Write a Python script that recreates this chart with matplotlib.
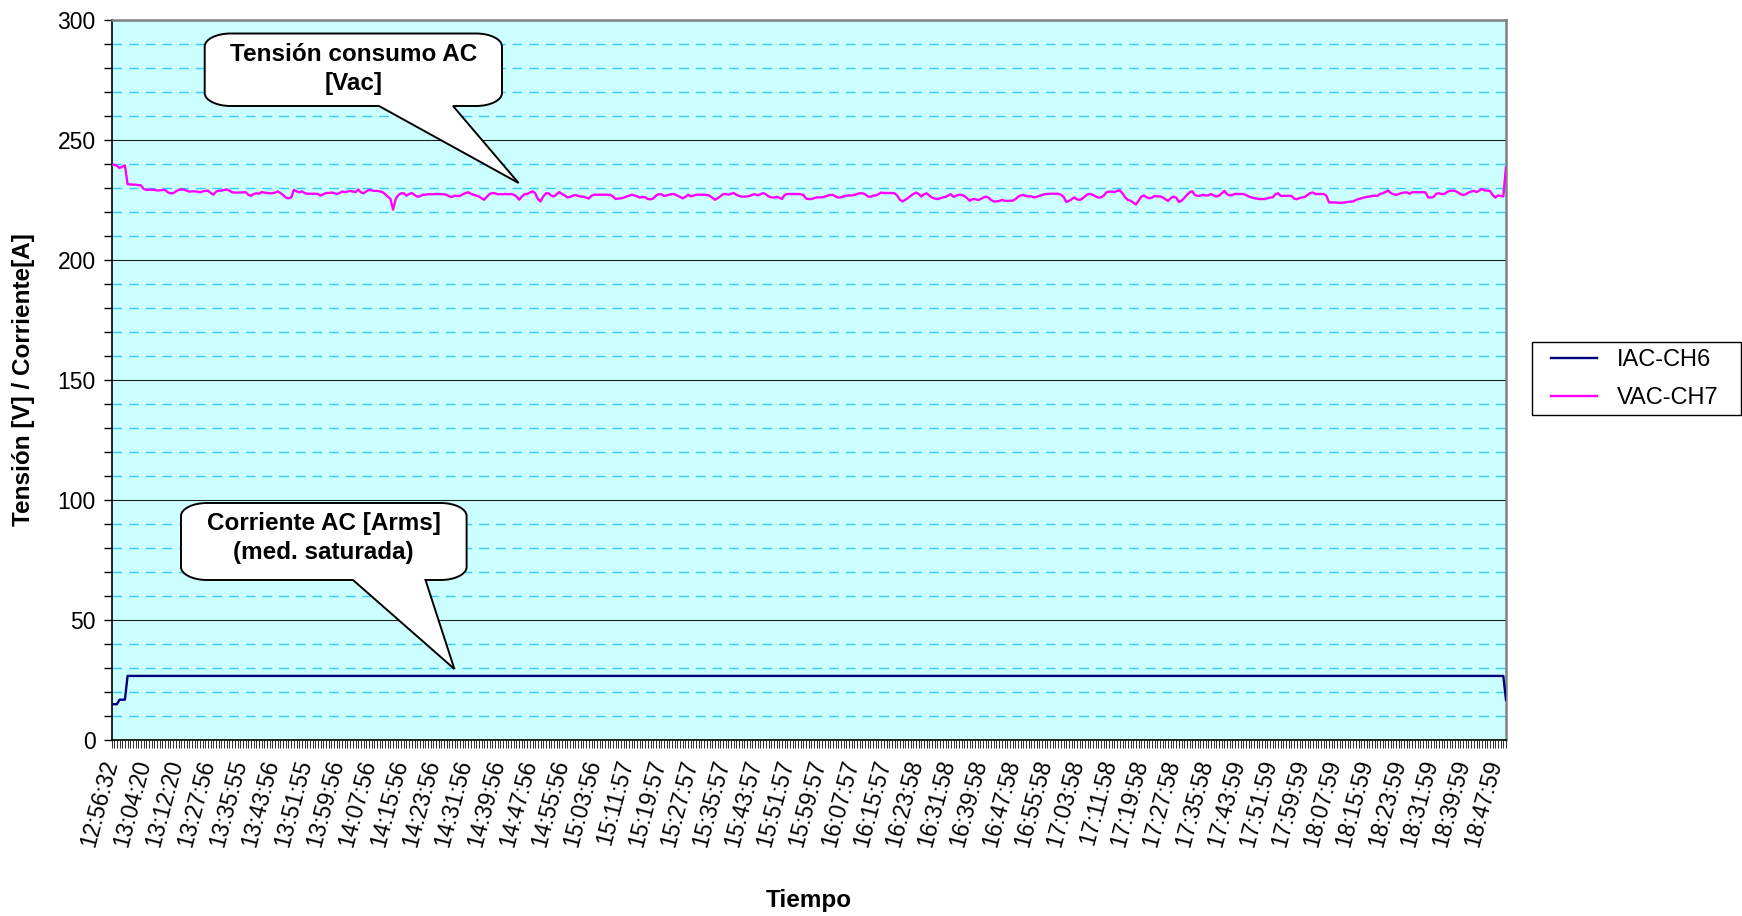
import numpy as np
import matplotlib
matplotlib.use("Agg")
import matplotlib.pyplot as plt
from matplotlib.path import Path
from matplotlib.patches import PathPatch, Rectangle
from matplotlib.ticker import FixedLocator, MultipleLocator

plt.rcParams['font.family'] = ['Liberation Sans', 'DejaVu Sans']

# ---------------- data ----------------
series_names = ["IAC-CH6", "VAC-CH7"]

tick_labels = ["12:56:32", "13:04:20", "13:12:20", "13:27:56", "13:35:55", "13:43:56",
               "13:51:55", "13:59:56", "14:07:56", "14:15:56", "14:23:56", "14:31:56",
               "14:39:56", "14:47:56", "14:55:56", "15:03:56", "15:11:57", "15:19:57",
               "15:27:57", "15:35:57", "15:43:57", "15:51:57", "15:59:57", "16:07:57",
               "16:15:57", "16:23:58", "16:31:58", "16:39:58", "16:47:58", "16:55:58",
               "17:03:58", "17:11:58", "17:19:58", "17:27:58", "17:35:58", "17:43:59",
               "17:51:59", "17:59:59", "18:07:59", "18:15:59", "18:23:59", "18:31:59",
               "18:39:59", "18:47:59"]
points_per_label = 12

iac_ch6 = [14.9, 14.9, 14.9, 16.8, 16.8, 16.8] + [26.7] * 514 + [16.7]

vac_ch7 = [
    239.7, 239.7, 239.3, 238.3, 238.9, 239.4, 231.6, 231.5, 231.4, 231.4,
    231.2, 231.1, 229.6, 229.2, 229.3, 229.3, 229.2, 229.0, 229.0, 229.2,
    229.2, 228.2, 227.8, 227.8, 228.6, 229.2, 229.4, 229.3, 228.9, 228.5,
    228.6, 228.6, 228.5, 228.2, 228.6, 228.8, 228.9, 227.9, 227.2, 228.5,
    228.9, 228.9, 229.2, 229.4, 228.9, 228.2, 228.1, 228.1, 228.1, 228.2,
    228.3, 227.2, 226.7, 227.5, 227.8, 227.6, 228.3, 228.1, 227.9, 227.8,
    227.8, 228.1, 228.6, 227.9, 227.1, 226.0, 225.7, 226.0, 229.2, 228.6,
    228.2, 228.6, 227.9, 227.6, 227.6, 227.6, 227.6, 227.5, 226.8, 227.4,
    227.9, 227.9, 228.1, 227.9, 227.5, 227.9, 228.5, 228.3, 228.5, 228.8,
    228.5, 228.3, 229.4, 228.2, 227.8, 228.6, 229.2, 229.0, 228.8, 228.8,
    228.6, 228.3, 227.5, 226.4, 225.5, 221.0, 225.5, 227.1, 227.8, 227.8,
    226.8, 227.5, 227.9, 227.1, 226.4, 226.5, 227.2, 227.2, 227.4, 227.4,
    227.4, 227.5, 227.5, 227.4, 227.4, 227.1, 226.5, 226.3, 226.8, 226.7,
    226.7, 227.4, 227.9, 228.2, 227.6, 227.2, 226.8, 226.5, 225.7, 225.1,
    226.4, 227.5, 227.9, 227.8, 227.4, 227.4, 227.4, 227.5, 227.4, 227.5,
    227.2, 226.5, 225.1, 226.4, 227.4, 227.5, 228.1, 228.6, 227.8, 225.4,
    224.4, 226.5, 227.8, 227.8, 226.8, 226.5, 227.4, 228.3, 227.5, 226.9,
    226.1, 226.3, 226.8, 227.1, 226.7, 226.4, 226.4, 226.0, 225.6, 226.8,
    227.2, 227.2, 227.2, 227.2, 227.2, 227.2, 227.1, 226.5, 225.4, 225.6,
    225.7, 226.0, 226.4, 226.8, 227.2, 226.9, 226.5, 226.0, 226.3, 226.1,
    225.4, 225.3, 225.6, 226.8, 227.4, 227.4, 226.7, 226.9, 227.2, 227.5,
    227.4, 226.8, 226.3, 225.7, 226.3, 227.2, 226.5, 226.8, 227.2, 227.2,
    227.2, 227.2, 227.1, 226.8, 226.0, 225.1, 225.7, 226.5, 227.4, 227.5,
    227.2, 227.6, 227.9, 227.2, 226.7, 226.4, 226.4, 226.5, 226.7, 227.2,
    227.4, 226.9, 227.4, 227.9, 227.4, 226.5, 226.1, 226.0, 226.3, 226.0,
    225.4, 227.1, 227.5, 227.5, 227.5, 227.5, 227.5, 227.4, 227.1, 225.6,
    225.4, 225.4, 225.8, 226.1, 226.1, 226.1, 226.4, 226.8, 227.1, 227.1,
    226.5, 226.0, 226.1, 226.5, 226.8, 226.9, 226.9, 227.1, 227.5, 227.8,
    227.8, 227.4, 226.5, 226.3, 226.8, 226.9, 227.4, 228.1, 227.9, 227.9,
    227.9, 227.9, 227.8, 226.8, 225.1, 224.4, 225.1, 225.8, 226.7, 227.5,
    228.1, 227.5, 226.4, 227.4, 227.8, 226.8, 226.0, 225.6, 225.4, 225.7,
    226.1, 226.3, 226.9, 227.4, 226.3, 226.8, 227.2, 227.1, 226.7, 225.8,
    224.7, 225.3, 225.4, 225.0, 225.3, 226.0, 226.4, 226.0, 225.0, 224.4,
    224.4, 224.6, 225.0, 224.7, 224.6, 224.7, 224.7, 225.3, 226.3, 226.9,
    227.1, 226.7, 226.5, 226.5, 226.1, 226.3, 226.7, 227.1, 227.4, 227.5,
    227.6, 227.6, 227.6, 227.6, 227.2, 226.4, 224.2, 224.6, 225.3, 226.1,
    225.3, 225.0, 225.6, 226.5, 227.4, 227.5, 227.1, 226.5, 226.0, 226.1,
    226.8, 228.2, 228.5, 228.5, 228.3, 228.8, 229.0, 227.8, 226.1, 225.0,
    224.7, 223.9, 223.1, 224.7, 226.4, 226.9, 226.1, 225.7, 226.0, 226.7,
    226.5, 226.5, 226.1, 225.3, 224.6, 225.8, 226.4, 226.0, 224.2, 224.7,
    225.8, 227.1, 228.2, 228.6, 227.1, 226.7, 226.8, 227.2, 226.9, 226.9,
    227.5, 226.9, 226.5, 226.8, 227.8, 228.8, 227.4, 226.9, 227.1, 227.6,
    227.5, 227.5, 227.5, 227.1, 226.5, 226.1, 225.8, 225.6, 225.4, 225.4,
    225.4, 225.7, 226.0, 226.1, 227.4, 227.8, 226.7, 226.7, 226.7, 226.8,
    226.7, 225.6, 225.3, 225.8, 226.1, 226.3, 227.1, 227.9, 228.1, 227.5,
    227.5, 227.5, 227.5, 226.8, 224.0, 224.0, 224.0, 223.9, 223.8, 223.9,
    224.0, 224.2, 224.3, 224.4, 225.0, 225.4, 225.7, 226.0, 226.3, 226.4,
    226.7, 226.8, 226.7, 227.5, 227.8, 228.3, 229.0, 227.9, 227.4, 227.1,
    227.5, 227.9, 228.1, 228.2, 227.6, 228.2, 228.3, 228.2, 228.2, 228.3,
    228.1, 226.1, 226.0, 226.3, 227.6, 227.8, 227.5, 227.5, 228.3, 228.8,
    228.9, 228.8, 228.2, 227.5, 227.1, 227.4, 228.1, 228.5, 228.8, 228.3,
    228.9, 229.6, 229.0, 228.9, 228.8, 227.1, 226.0, 226.9, 226.7, 226.5,
    238.6,
]

y_label = "Tensión [V] / Corriente[A]"
x_label = "Tiempo"
callout_v = "Tensión consumo AC\n[Vac]"
callout_i = "Corriente AC [Arms]\n(med. saturada)"

# ---------------- figure ----------------
W, H = 1742, 916
fig = plt.figure(figsize=(W / 100, H / 100), dpi=100)
fig.patch.set_facecolor('white')

def fx(px):
    return px / W

def fy(py):
    return 1 - py / H

L_px, R_px, T_px, B_px = 111.5, 1506.0, 20.0, 740.0
ax = fig.add_axes([fx(L_px), fy(B_px), (R_px - L_px) / W, (B_px - T_px) / H])
ax.set_facecolor('#CCFFFF')

x = np.arange(len(vac_ch7))
l1, = ax.plot(x, iac_ch6, color='#000080', lw=1.7, label=series_names[0], zorder=3)
l2, = ax.plot(x, vac_ch7, color='#FF00FF', lw=1.7, label=series_names[1], zorder=3)

ax.set_xlim(0, len(x) - 1)
ax.set_ylim(0, 300)

ax.yaxis.set_major_locator(MultipleLocator(50))
ax.yaxis.set_minor_locator(MultipleLocator(10))
ax.set_axisbelow(True)
ax.yaxis.grid(True, which='major', color='#202020', lw=0.8)
ax.yaxis.grid(True, which='minor', color='#33CCFF', lw=1.0, linestyle=(0, (7, 5)))

tick_pos = np.arange(len(tick_labels)) * points_per_label
ax.xaxis.set_major_locator(FixedLocator(tick_pos))
ax.xaxis.set_minor_locator(FixedLocator(x))
ax.set_xticklabels(tick_labels, rotation=75, ha='right', va='center',
                   rotation_mode='anchor', fontsize=16.5)
ax.tick_params(axis='x', which='both', direction='out', length=5.5, width=0.7,
               color='#303030', pad=9)
ax.tick_params(axis='y', which='both', direction='out', length=5.5, width=1.0,
               color='black', labelsize=16.5, pad=6)

for s in ['left', 'bottom']:
    ax.spines[s].set_color('black')
    ax.spines[s].set_linewidth(1.2)
for s in ['top', 'right']:
    ax.spines[s].set_color('#808080')
    ax.spines[s].set_linewidth(1.8)

# axis titles
fig.text(fx(24), fy(380), y_label, rotation=90, ha='center', va='center',
         fontsize=17.5, fontweight='bold')
fig.text(fx(808.75), fy(901), x_label, ha='center', va='center',
         fontsize=17.5, fontweight='bold')

# legend
fig.legend([l1, l2], series_names, loc='center left',
           bbox_to_anchor=(fx(1538.7), fy(379.4)), frameon=False, borderpad=0,
           handlelength=1.95, handletextpad=0.85, labelspacing=0.68, fontsize=17)
fig.add_artist(Rectangle((fx(1531.7), fy(415)), 209 / W, 73 / H,
                         transform=fig.transFigure, fill=False,
                         edgecolor='black', lw=1.0))

# callouts
def callout(L, R, T, B, x1, x2, tip, rx=26, ry=13):
    k = 0.5523
    tx, ty = tip
    verts = [
        (L + rx, T), (R - rx, T),
        (R - rx + k * rx, T), (R, T + ry - k * ry), (R, T + ry),
        (R, B - ry),
        (R, B - ry + k * ry), (R - rx + k * rx, B), (R - rx, B),
        (x2, B), (tx, ty), (x1, B), (L + rx, B),
        (L + rx - k * rx, B), (L, B - ry + k * ry), (L, B - ry),
        (L, T + ry),
        (L, T + ry - k * ry), (L + rx - k * rx, T), (L + rx, T),
        (L + rx, T),
    ]
    codes = [Path.MOVETO, Path.LINETO,
             Path.CURVE4, Path.CURVE4, Path.CURVE4,
             Path.LINETO,
             Path.CURVE4, Path.CURVE4, Path.CURVE4,
             Path.LINETO, Path.LINETO, Path.LINETO, Path.LINETO,
             Path.CURVE4, Path.CURVE4, Path.CURVE4,
             Path.LINETO,
             Path.CURVE4, Path.CURVE4, Path.CURVE4,
             Path.CLOSEPOLY]
    verts = [(fx(a), fy(b)) for a, b in verts]
    p = PathPatch(Path(verts, codes), transform=fig.transFigure,
                  facecolor='white', edgecolor='black', lw=1.4, zorder=5)
    fig.add_artist(p)

callout(204.7, 502.0, 33.5, 106.0, 379.0, 453.0, (518.6, 183.0))
fig.text(fx(353.4), fy(69), callout_v, ha='center', va='center', fontsize=17.5,
         fontweight='bold', linespacing=1.3, zorder=6)

callout(181.0, 466.6, 503.0, 580.0, 353.0, 425.5, (454.4, 669.0))
fig.text(fx(323.8), fy(538), callout_i, ha='center', va='center', fontsize=17.5,
         fontweight='bold', linespacing=1.3, zorder=6)

fig.savefig('out.png', dpi=100, facecolor='white')
